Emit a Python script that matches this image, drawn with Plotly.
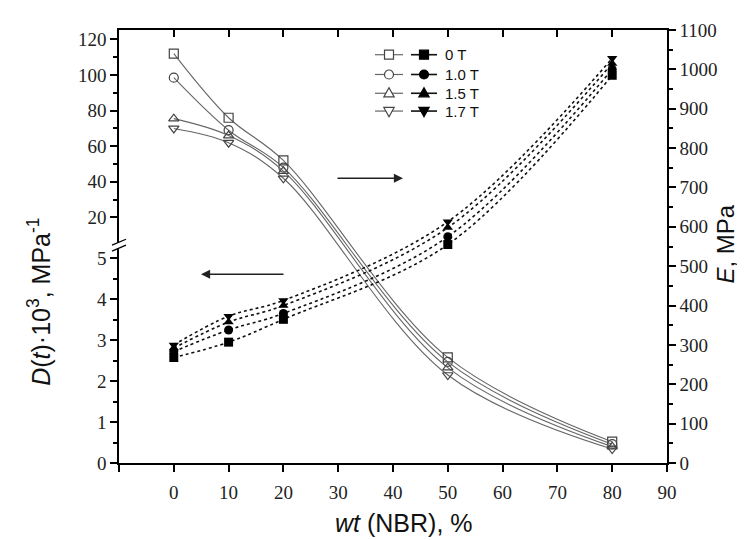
import plotly.graph_objects as go

# ---------------- data ----------------
wt = [0, 10, 20, 50, 80]
fields = ["0 T", "1.0 T", "1.5 T", "1.7 T"]

D_0T = [112, 76, 52, 2.58, 0.52]
D_10T = [98.5, 69, 48, 2.47, 0.46]
D_15T = [75.5, 66, 46, 2.33, 0.40]
D_17T = [70, 62, 42, 2.15, 0.34]

E_0T = [268, 307, 365, 555, 985]
E_10T = [283, 338, 380, 575, 1000]
E_15T = [292, 358, 400, 598, 1015]
E_17T = [300, 373, 413, 613, 1028]

x_ticks = [-10, 0, 10, 20, 30, 40, 50, 60, 70, 80, 90]
x_ticktext = ["", "0", "10", "20", "30", "40", "50", "60", "70", "80", "90"]
left_low_ticks = [0, 1, 2, 3, 4, 5]
left_low_minor = [0.5, 1.5, 2.5, 3.5, 4.5]
left_high_ticks = [20, 40, 60, 80, 100, 120]
left_high_minor = [30, 50, 70, 90, 110]
right_ticks = list(range(0, 1101, 100))

# ---------------- broken left scale ----------------
LOW_MAX = 5.25
HIGH_BASE = 20
HIGH_BASE_U = 6.0
HIGH_SCALE = 0.0435
Y_TOP = 10.58


def brk(v):
    if v <= LOW_MAX:
        return v
    return HIGH_BASE_U + (v - HIGH_BASE) * HIGH_SCALE


D_series = [D_0T, D_10T, D_15T, D_17T]
E_series = [E_0T, E_10T, E_15T, E_17T]
open_syms = ["square-open", "circle-open", "triangle-up-open", "triangle-down-open"]
fill_syms = ["square", "circle", "triangle-up", "triangle-down"]

fig = go.Figure()

for name, D, sym in zip(fields, D_series, open_syms):
    fig.add_trace(go.Scatter(
        x=wt, y=[brk(v) for v in D], mode="lines+markers", name=name,
        line=dict(color="#666666", width=1.1, shape="spline", smoothing=1.0),
        marker=dict(symbol=sym, size=9, color="#444444", line=dict(width=1.2, color="#444444")),
        showlegend=False, yaxis="y", xaxis="x"))

for name, E, sym in zip(fields, E_series, fill_syms):
    fig.add_trace(go.Scatter(
        x=wt, y=E, mode="lines+markers", name=name,
        line=dict(color="#111111", width=1.6, dash="dot", shape="spline", smoothing=1.0),
        marker=dict(symbol=sym, size=9, color="#000000"),
        showlegend=False, yaxis="y2", xaxis="x"))

serif = "Liberation Serif, Times New Roman, serif"
sans = "Liberation Sans, Arial, sans-serif"

L, R, T, B = 111, 86, 17, 85
W, H = 745, 540
PW, PH = W - L - R, H - T - B


def px(xp):
    return (xp - L) / PW


def py(yp):
    return (T + PH - yp) / PH


fig.update_layout(
    width=W, height=H,
    margin=dict(l=L, r=R, t=T, b=B),
    paper_bgcolor="white", plot_bgcolor="white",
    showlegend=False,
    xaxis=dict(range=[-10, 90], tickvals=x_ticks, ticktext=x_ticktext,
               ticks="outside", ticklen=7, tickwidth=1.5, tickcolor="black",
               showline=True, linecolor="black", linewidth=1.5,
               showgrid=False, zeroline=False,
               tickfont=dict(family=serif, size=19, color="#222"),
               ticklabelstandoff=4),
    xaxis2=dict(range=[-10, 90], overlaying="x", side="top", matches="x",
                tickvals=x_ticks, ticks="inside", ticklen=7, tickwidth=1.5,
                tickcolor="black", showticklabels=False,
                showline=True, linecolor="black", linewidth=1.5,
                showgrid=False, zeroline=False),
    yaxis=dict(range=[0, Y_TOP],
               tickvals=[brk(v) for v in left_low_ticks + left_high_ticks],
               ticktext=[str(v) for v in left_low_ticks + left_high_ticks],
               ticks="outside", ticklen=7, tickwidth=1.5, tickcolor="black",
               minor=dict(tickvals=[brk(v) for v in left_low_minor + left_high_minor],
                          ticks="outside", ticklen=4, tickwidth=1.5, tickcolor="black"),
               showline=True, linecolor="black", linewidth=1.5,
               showgrid=False, zeroline=False,
               tickfont=dict(family=serif, size=19, color="#222")),
    yaxis2=dict(range=[0, 1100], overlaying="y", side="right",
                tickvals=right_ticks,
                ticks="outside", ticklen=7, tickwidth=1.5, tickcolor="black",
                minor=dict(dtick=50, ticks="outside", ticklen=4, tickwidth=1.5, tickcolor="black"),
                showline=True, linecolor="black", linewidth=1.5,
                showgrid=False, zeroline=False,
                tickfont=dict(family=serif, size=19, color="#222")),
)

# dummy trace to make xaxis2 visible
fig.add_trace(go.Scatter(x=[None], y=[None], xaxis="x2", yaxis="y", showlegend=False, hoverinfo="skip"))

shapes = []
ann = []

# axis break marks on the left axis
yb = T + PH - brk(LOW_MAX) * PH / Y_TOP - 3
shapes.append(dict(type="rect", xref="paper", yref="paper",
                   x0=px(L - 3), x1=px(L + 3), y0=py(yb + 3), y1=py(yb - 3),
                   fillcolor="white", line=dict(width=0), layer="above"))
for dy in (-3, 3):
    shapes.append(dict(type="line", xref="paper", yref="paper",
                       x0=px(L - 7), y0=py(yb + dy + 3), x1=px(L + 7), y1=py(yb + dy - 3),
                       line=dict(color="black", width=1.3), layer="above"))

# legend (drawn manually: open + filled symbol per row)
rows_y = [42, 62, 81, 99]
open_x, fill_x, text_x = 381, 416, 435


def sym_path(kind):
    s = 4.5
    if kind == "square":
        return dict(type="rect", x0=-s, x1=s, y0=-s, y1=s)
    if kind == "circle":
        return dict(type="circle", x0=-s, x1=s, y0=-s, y1=s)
    if kind == "triangle-up":
        return dict(type="path", path=f"M {-s*1.15},{-s*0.8} L {s*1.15},{-s*0.8} L 0,{s*1.25} Z")
    return dict(type="path", path=f"M {-s*1.15},{s*0.8} L {s*1.15},{s*0.8} L 0,{-s*1.25} Z")


kinds = ["square", "circle", "triangle-up", "triangle-down"]
for ry, k, lab in zip(rows_y, kinds, fields):
    yp = py(ry)
    shapes.append(dict(type="line", xref="paper", yref="paper", x0=px(367), x1=px(395),
                       y0=yp, y1=yp, line=dict(color="#666", width=1.2)))
    shapes.append(dict(type="line", xref="paper", yref="paper", x0=px(403), x1=px(429),
                       y0=yp, y1=yp, line=dict(color="#111", width=1.6)))
    for cx, filled in ((open_x, False), (fill_x, True)):
        d = sym_path(k)
        d.update(xref="paper", yref="paper", xsizemode="pixel", ysizemode="pixel",
                 xanchor=px(cx), yanchor=py(ry),
                 fillcolor="black" if filled else "white",
                 line=dict(color="black" if filled else "#444", width=1.2))
        shapes.append(d)
    ann.append(dict(xref="paper", yref="paper", x=px(text_x), y=yp, text=lab,
                    showarrow=False, xanchor="left", yanchor="middle",
                    font=dict(family=sans, size=15, color="#111")))

# arrows
ann.append(dict(xref="paper", yref="paper", x=px(193), y=py(264), ax=84, ay=0,
                text="", showarrow=True, arrowhead=2, arrowsize=1.3, arrowwidth=1.4,
                arrowcolor="#222"))
ann.append(dict(xref="paper", yref="paper", x=px(395), y=py(167), ax=-67, ay=0,
                text="", showarrow=True, arrowhead=2, arrowsize=1.3, arrowwidth=1.4,
                arrowcolor="#222"))

# axis titles
ann.append(dict(xref="paper", yref="paper", x=px(396), y=py(516),
                text="<i>wt</i> (NBR), %", showarrow=False, xanchor="center", yanchor="middle",
                font=dict(family=sans, size=25, color="#111")))
ann.append(dict(xref="paper", yref="paper", x=px(31), y=py(292), textangle=-90,
                text="<i>D</i>(<i>t</i>)·10<sup>3</sup>, MPa<sup>-1</sup>", showarrow=False,
                xanchor="center", yanchor="middle",
                font=dict(family=sans, size=25, color="#111")))
ann.append(dict(xref="paper", yref="paper", x=px(718), y=py(234), textangle=-90,
                text="<i>E</i>, MPa", showarrow=False, xanchor="center", yanchor="middle",
                font=dict(family=sans, size=24, color="#111")))

fig.update_layout(shapes=shapes, annotations=ann)

fig.write_html("out.html")
